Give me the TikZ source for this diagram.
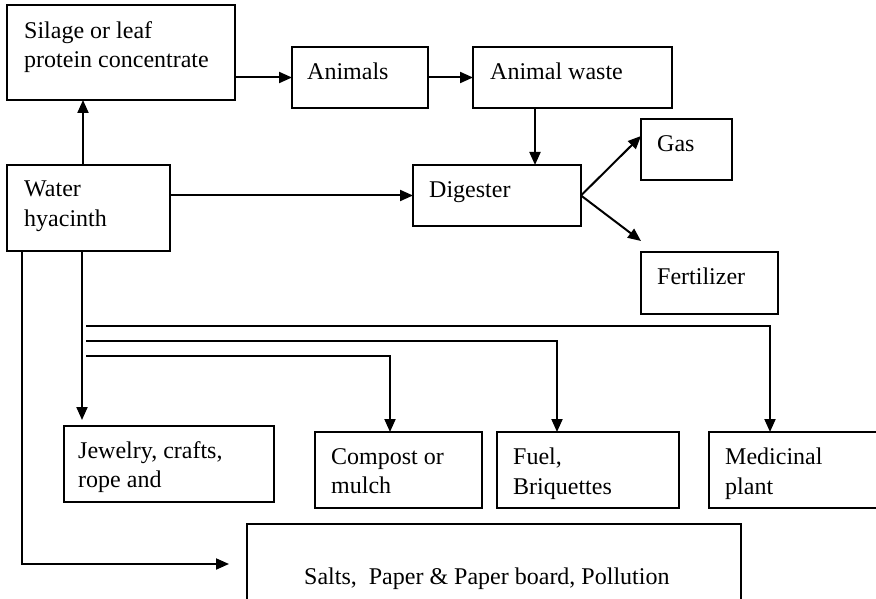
\documentclass[tikz,border=0pt]{standalone}
\usepackage{fontspec}
\setmainfont{Liberation Serif}
\usetikzlibrary{arrows.meta,calc}
\begin{document}
\begin{tikzpicture}[x=1pt,y=-1pt,
  box/.style={draw, line width=1.5pt, inner sep=0pt, outer sep=0pt, anchor=north west},
  txt/.style={anchor=north west, inner sep=0pt, align=left, font=\fontsize{24}{29.5}\selectfont},
  arr/.style={line width=2pt, -{Triangle[length=13pt,width=11pt]}}]
\useasboundingbox (0,0) rectangle (876,599);
\clip (0,0) rectangle (876,599);
\fill[white] (0,0) rectangle (876,599);
% boxes
\node[box, minimum width=228pt, minimum height=95pt] (silage) at (7,5) {};
\node[box, minimum width=136pt, minimum height=61pt] (animals) at (292,47) {};
\node[box, minimum width=199pt, minimum height=61pt] (waste) at (473,47) {};
\node[box, minimum width=168pt, minimum height=61pt] (digester) at (413,165) {};
\node[box, minimum width=91pt, minimum height=61pt] (gas) at (641,119) {};
\node[box, minimum width=137pt, minimum height=62pt] (fert) at (641,252) {};
\node[box, minimum width=163pt, minimum height=86pt] (hyacinth) at (7,165) {};
\node[box, minimum width=210pt, minimum height=76pt] (jewelry) at (64,426) {};
\node[box, minimum width=167pt, minimum height=76pt] (compost) at (315,432) {};
\node[box, minimum width=182pt, minimum height=76pt] (fuel) at (497,432) {};
\node[box, minimum width=176pt, minimum height=76pt] (medicinal) at (709,432) {};
\node[box, minimum width=494pt, minimum height=96pt] (salts) at (247,524) {};
% texts
\node[txt] (silage-t) at ($(silage.north west)+(17,16)$) {Silage or leaf\\protein concentrate};
\node[txt] (animals-t) at ($(animals.north west)+(15,16)$) {Animals};
\node[txt] (waste-t) at ($(waste.north west)+(17,16)$) {Animal waste};
\node[txt] (digester-t) at ($(digester.north west)+(16,16)$) {Digester};
\node[txt] (gas-t) at ($(gas.north west)+(16,16)$) {Gas};
\node[txt] (fert-t) at ($(fert.north west)+(16,16)$) {Fertilizer};
\node[txt] (hyacinth-t) at ($(hyacinth.north west)+(17,16)$) {Water\\hyacinth};
\node[txt] (jewelry-t) at ($(jewelry.north west)+(14,15)$) {Jewelry, crafts,\\rope and};
\node[txt] (compost-t) at ($(compost.north west)+(16,16)$) {Compost or\\mulch};
\node[txt] (fuel-t) at ($(fuel.north west)+(16,16)$) {Fuel,\\Briquettes};
\node[txt] (medicinal-t) at ($(medicinal.north west)+(16,16)$) {Medicinal\\plant};
\node[txt] (salts-t) at ($(salts.north west)+(57,44)$) {Salts,\ \ Paper \& Paper board, Pollution};
% connectors
\coordinate (xa) at (83,0);
\draw[arr] (xa |- hyacinth.north) -- (xa |- silage.south);
\draw[arr] (silage.east |- animals.west) -- (animals.west);
\draw[arr] (animals.east) -- (waste.west);
\coordinate (xb) at (535,0);
\draw[arr] (xb |- waste.south) -- (xb |- digester.north);
\draw[arr] (hyacinth.east |- digester.west) -- (digester.west);
\coordinate (gas-in) at (641,136);
\coordinate (fert-in) at (641,241);
\draw[arr] (digester.east) -- (gas-in);
\draw[arr] (digester.east) -- (fert-in);
\coordinate (xj) at (82,0);
\draw[arr, shorten >=6pt] (xj |- hyacinth.south) -- (xj |- jewelry.north);
\coordinate (xs) at (22,0);
\coordinate (salts-in) at (229,564);
\draw[arr] (xs |- hyacinth.south) |- (salts-in);
\coordinate (b1) at (86,326);
\coordinate (b2) at (86,341);
\coordinate (b3) at (86,356);
\coordinate (xm) at (770,0);
\coordinate (xf) at (557,0);
\coordinate (xc) at (390,0);
\draw[arr] (b1) -| (xm |- medicinal.north);
\draw[arr] (b2) -| (xf |- fuel.north);
\draw[arr] (b3) -| (xc |- compost.north);
\end{tikzpicture}
\end{document}
